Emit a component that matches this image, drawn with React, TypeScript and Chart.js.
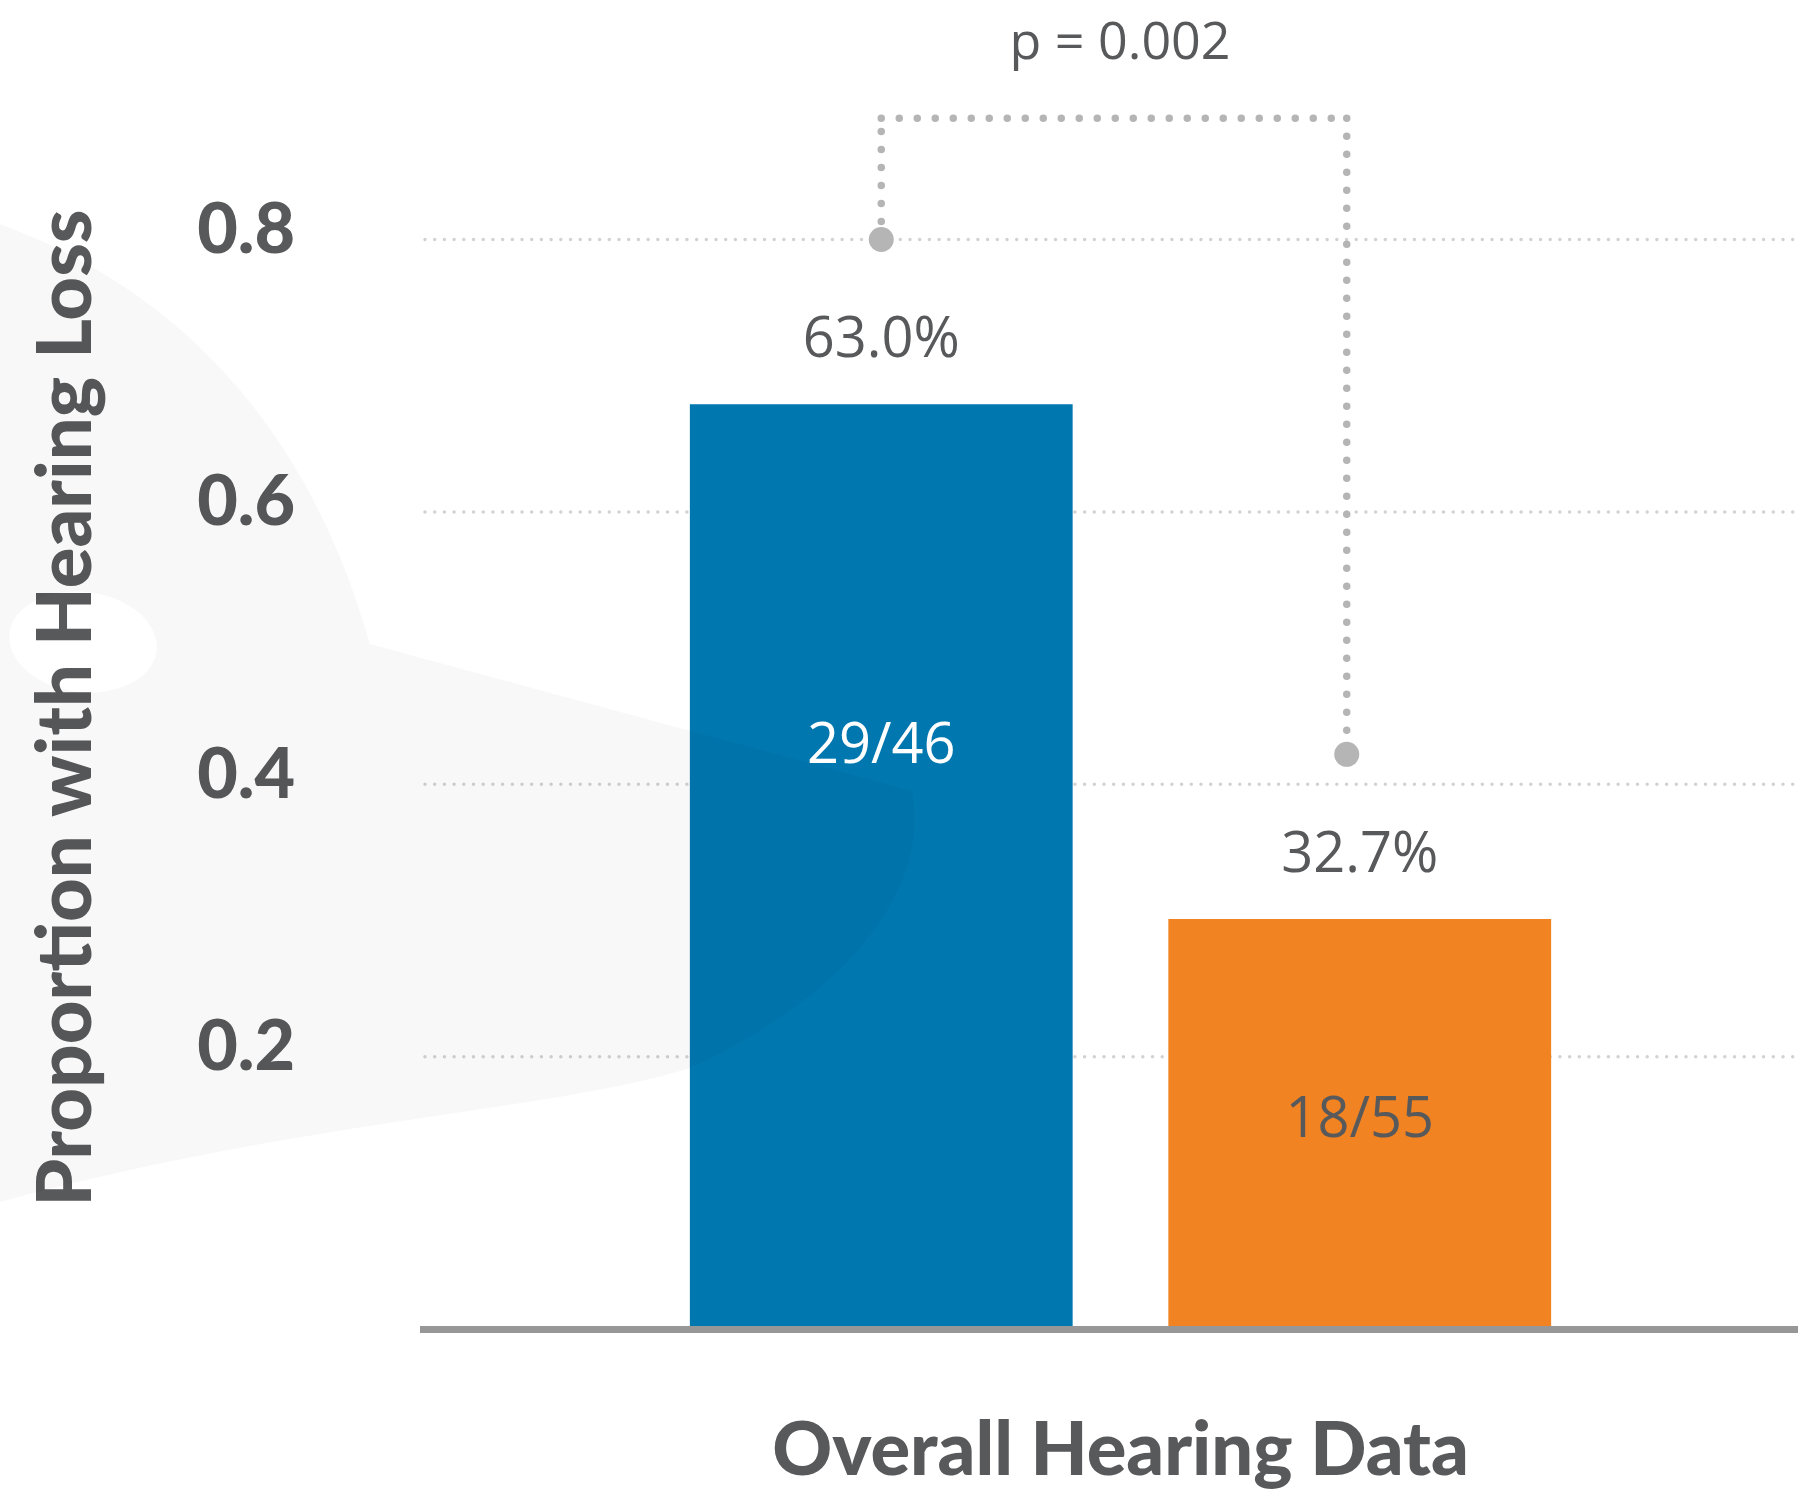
import React, { useEffect, useRef } from "react";
import { Chart, registerables } from "chart.js";

Chart.register(...registerables);

// ---- data ----
const categories = ["Overall Hearing Data"];
const groupNames = ["Group A", "Group B"];
const barHeights = [0.679, 0.301];
const percentLabels = ["63.0%", "32.7%"];
const fractionLabels = ["29/46", "18/55"];
const yTickValues = [0.2, 0.4, 0.6, 0.8];
const pValueText = "p = 0.002";
const bracketLevels = { left: 0.8, top: 0.889, right: 0.422 };

const BAR_COLORS = ["#0077AF", "#F28323"];
const FRACTION_COLORS = ["#FFFFFF", "#58595B"];
const TEXT_GRAY = "#58595B";

const decorPlugin = {
  id: "decor",
  beforeDatasetsDraw(chart: any) {
    const { ctx, chartArea } = chart;
    const y = chart.scales.y;
    ctx.save();
    ctx.strokeStyle = "#D2D2D2";
    ctx.lineWidth = 3.5;
    ctx.lineCap = "round";
    ctx.setLineDash([0, 9.7]);
    for (const t of y.ticks) {
      const py = y.getPixelForValue(t.value);
      ctx.beginPath();
      ctx.moveTo(chartArea.left + 2, py);
      ctx.lineTo(chartArea.right, py);
      ctx.stroke();
    }
    ctx.restore();
  },
  afterDatasetsDraw(chart: any) {
    const { ctx } = chart;
    const y = chart.scales.y;
    // faint background silhouette
    ctx.save();
    ctx.fillStyle = "rgba(0,0,0,0.026)";
    ctx.beginPath();
    ctx.moveTo(0, 224);
    ctx.bezierCurveTo(180, 290, 310, 430, 370, 644);
    ctx.lineTo(912, 791);
    ctx.bezierCurveTo(930, 880, 860, 990, 690, 1068);
    ctx.bezierCurveTo(560, 1110, 300, 1120, 0, 1202);
    ctx.closePath();
    ctx.moveTo(156, 642);
    ctx.ellipse(83, 642, 74, 50, 0.12, 0, Math.PI * 2);
    ctx.fill("evenodd");
    ctx.restore();

    const b0 = chart.getDatasetMeta(0).data[0];
    const b1 = chart.getDatasetMeta(1).data[0];
    const xl = b0.x;
    const xr = b1.x - 13;
    const yl = y.getPixelForValue(bracketLevels.left);
    const yt = y.getPixelForValue(bracketLevels.top);
    const yr = y.getPixelForValue(bracketLevels.right);

    ctx.save();
    ctx.strokeStyle = "#B5B5B5";
    ctx.fillStyle = "#B5B5B5";
    ctx.lineWidth = 7.5;
    ctx.lineCap = "round";
    ctx.setLineDash([0, 18]);
    ctx.beginPath();
    ctx.moveTo(xl, yl);
    ctx.lineTo(xl, yt);
    ctx.stroke();
    ctx.beginPath();
    ctx.moveTo(xl, yt);
    ctx.lineTo(xr, yt);
    ctx.stroke();
    ctx.beginPath();
    ctx.moveTo(xr, yt);
    ctx.lineTo(xr, yr);
    ctx.stroke();
    ctx.setLineDash([]);
    ctx.beginPath();
    ctx.arc(xl, yl, 12.5, 0, Math.PI * 2);
    ctx.fill();
    ctx.beginPath();
    ctx.arc(xr, yr, 12.5, 0, Math.PI * 2);
    ctx.fill();

    // p-value
    ctx.fillStyle = TEXT_GRAY;
    ctx.font = "52px 'Open Sans'";
    ctx.textAlign = "center";
    ctx.textBaseline = "alphabetic";
    ctx.fillText(pValueText, (xl + xr) / 2 + 6, yt - 59);

    // bar labels
    const metas = [b0, b1];
    const fracAt = [0.427, 0.153];
    ctx.font = "56px 'Open Sans'";
    metas.forEach((bar: any, i: number) => {
      ctx.fillStyle = TEXT_GRAY;
      ctx.textBaseline = "alphabetic";
      ctx.fillText(percentLabels[i], bar.x, bar.y - 47);
      ctx.fillStyle = FRACTION_COLORS[i];
      ctx.textBaseline = "middle";
      ctx.fillText(fractionLabels[i], bar.x, y.getPixelForValue(fracAt[i]));
    });
    ctx.restore();
  },
};

export default function App() {
  const ref = useRef<HTMLCanvasElement>(null);
  useEffect(() => {
    if (!ref.current) return;
    const chart = new Chart(ref.current, {
      type: "bar",
      data: {
        labels: categories,
        datasets: barHeights.map((v, i) => ({
          label: groupNames[i],
          data: [v],
          backgroundColor: BAR_COLORS[i],
          borderWidth: 0,
          categoryPercentage: 0.686,
          barPercentage: 0.8,
        })),
      },
      options: {
        animation: false,
        responsive: false,
        maintainAspectRatio: false,
        layout: { padding: { top: 87, left: 0, right: 0, bottom: 0 } },
        plugins: { legend: { display: false }, tooltip: { enabled: false } },
        scales: {
          x: {
            grid: { display: false, drawTicks: false },
            ticks: { display: false },
            border: { display: true, color: "#979797", width: 7, z: 1 },
            title: {
              display: true,
              text: categories[0],
              color: TEXT_GRAY,
              font: { family: "Lato", weight: "900", size: 74, lineHeight: 1 },
              padding: { top: 0, bottom: 9 },
            },
            afterFit: (s: any) => {
              s.height = 168;
              s.paddingLeft = 0;
              s.paddingRight = 0;
            },
          },
          y: {
            min: 0,
            max: 0.912,
            afterBuildTicks: (s: any) => {
              s.ticks = yTickValues.map((v) => ({ value: v }));
            },
            grid: { display: false, drawTicks: false, tickLength: 0 },
            border: { display: false },
            ticks: {
              color: TEXT_GRAY,
              padding: 128,
              labelOffset: -9,
              font: { family: "Lato", weight: "900", size: 70 },
              callback: (v: any) => Number(v).toFixed(1),
            },
            title: {
              display: true,
              text: "Proportion with Hearing Loss",
              color: TEXT_GRAY,
              font: { family: "Lato", weight: "900", size: 76, lineHeight: 1 },
              padding: { top: 28, bottom: 0 },
            },
            afterFit: (s: any) => {
              s.width = 423;
              s.paddingTop = 0;
              s.paddingBottom = 0;
            },
          },
        },
      },
      plugins: [decorPlugin],
    });
    return () => chart.destroy();
  }, []);
  return (
    <div
      style={{
        position: "absolute",
        left: 0,
        top: 0,
        width: 1798,
        height: 1497,
        overflow: "hidden",
        background: "#FFFFFF",
      }}
    >
      <canvas ref={ref} width={1818} height={1497} style={{ display: "block" }} />
    </div>
  );
}
